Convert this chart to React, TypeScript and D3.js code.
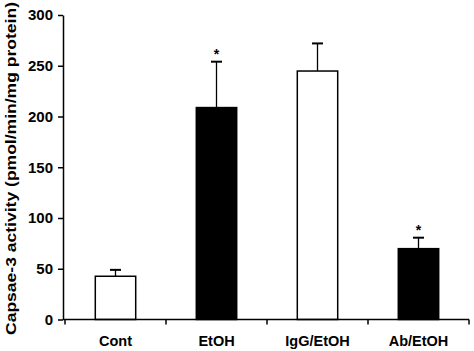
import React, { useEffect, useRef } from 'react';
import * as d3 from 'd3';

const categories = ['Cont', 'EtOH', 'IgG/EtOH', 'Ab/EtOH'];
const means = [42.6, 208.8, 244.8, 69.8];
const errTops = [48.9, 254, 272, 80.6];
const fills = ['white', 'black', 'white', 'black'];
const significant = [false, true, false, true];
const yTicks = [0, 50, 100, 150, 200, 250, 300];

const App: React.FC = () => {
  const ref = useRef<SVGSVGElement | null>(null);

  useEffect(() => {
    const svg = d3.select(ref.current);
    svg.selectAll('*').remove();
    const width = 474;
    const height = 351;
    const margin = { top: 15, right: 5, bottom: 31, left: 63 };
    const font = 'Liberation Sans, Arial, sans-serif';

    const x = d3
      .scaleBand()
      .domain(categories)
      .range([margin.left + 2, width - margin.right])
      .paddingInner(0.6)
      .paddingOuter(0.3);

    const y = d3
      .scaleLinear()
      .domain([0, 300])
      .range([height - margin.bottom - 0.5, margin.top]);

    const data = categories.map((c, i) => ({
      c,
      v: means[i],
      e: errTops[i],
      fill: fills[i],
      sig: significant[i],
    }));

    // error bars (only upper half visible)
    const eb = svg.append('g');
    eb.selectAll('line.stem')
      .data(data)
      .join('line')
      .attr('x1', (d) => x(d.c)! + x.bandwidth() / 2)
      .attr('x2', (d) => x(d.c)! + x.bandwidth() / 2)
      .attr('y1', (d) => y(d.v))
      .attr('y2', (d) => y(d.e))
      .attr('stroke', 'black')
      .attr('stroke-width', 1.3);
    eb.selectAll('line.cap')
      .data(data)
      .join('line')
      .attr('x1', (d) => x(d.c)! + x.bandwidth() / 2 - 5.5)
      .attr('x2', (d) => x(d.c)! + x.bandwidth() / 2 + 5.5)
      .attr('y1', (d) => y(d.e))
      .attr('y2', (d) => y(d.e))
      .attr('stroke', 'black')
      .attr('stroke-width', 2);

    svg
      .append('g')
      .selectAll('rect')
      .data(data)
      .join('rect')
      .attr('x', (d) => x(d.c)!)
      .attr('y', (d) => y(d.v))
      .attr('width', x.bandwidth())
      .attr('height', (d) => y(0) - y(d.v))
      .attr('fill', (d) => d.fill)
      .attr('stroke', 'black')
      .attr('stroke-width', 1.5);

    svg
      .append('g')
      .selectAll('text')
      .data(data.filter((d) => d.sig))
      .join('text')
      .attr('x', (d) => x(d.c)! + x.bandwidth() / 2)
      .attr('y', (d) => y(d.e) - 3)
      .attr('text-anchor', 'middle')
      .attr('font-family', font)
      .attr('font-weight', 'bold')
      .attr('font-size', 14)
      .text('*');

    // y axis
    const ya = svg
      .append('g')
      .attr('transform', `translate(${margin.left},0)`)
      .call(d3.axisLeft(y).tickValues(yTicks).tickSize(5).tickSizeOuter(0).tickPadding(5));
    ya.select('.domain').attr('stroke-width', 1.5);
    ya.selectAll('.tick line').attr('stroke-width', 1.5);
    ya.selectAll('.tick text')
      .attr('font-family', font)
      .attr('font-weight', 'bold')
      .attr('font-size', 15)
      .attr('fill', 'black');

    // x axis with ticks at band boundaries
    const xa = svg.append('g').attr('transform', `translate(0,${y(0)})`);
    xa.append('line')
      .attr('x1', margin.left)
      .attr('x2', width - margin.right)
      .attr('stroke', 'black')
      .attr('stroke-width', 1.5);
    const step = x.step();
    const first = x(categories[0])! - (step - x.bandwidth()) / 2;
    const bounds = d3.range(categories.length + 1).map((i) => first + i * step);
    xa.selectAll('line.t')
      .data(bounds)
      .join('line')
      .attr('x1', (d) => d)
      .attr('x2', (d) => d)
      .attr('y1', 0)
      .attr('y2', 5)
      .attr('stroke', 'black')
      .attr('stroke-width', 1.5);
    xa.selectAll('text')
      .data(categories)
      .join('text')
      .attr('x', (d) => x(d)! + x.bandwidth() / 2)
      .attr('y', 26)
      .attr('text-anchor', 'middle')
      .attr('font-family', font)
      .attr('font-weight', 'bold')
      .attr('font-size', 14.5)
      .text((d) => d);

    svg
      .append('text')
      .attr('transform', `translate(15.5,${(2 + 335) / 2}) rotate(-90)`)
      .attr('text-anchor', 'middle')
      .attr('font-family', font)
      .attr('font-weight', 'bold')
      .attr('font-size', 15)
      .attr('textLength', 333)
      .attr('lengthAdjust', 'spacingAndGlyphs')
      .text('Capsae-3 activity (pmol/min/mg protein)');
  }, []);

  return (
    <svg
      ref={ref}
      width={474}
      height={351}
      style={{ position: 'absolute', left: 0, top: 0, background: 'white' }}
    />
  );
};

export default App;
